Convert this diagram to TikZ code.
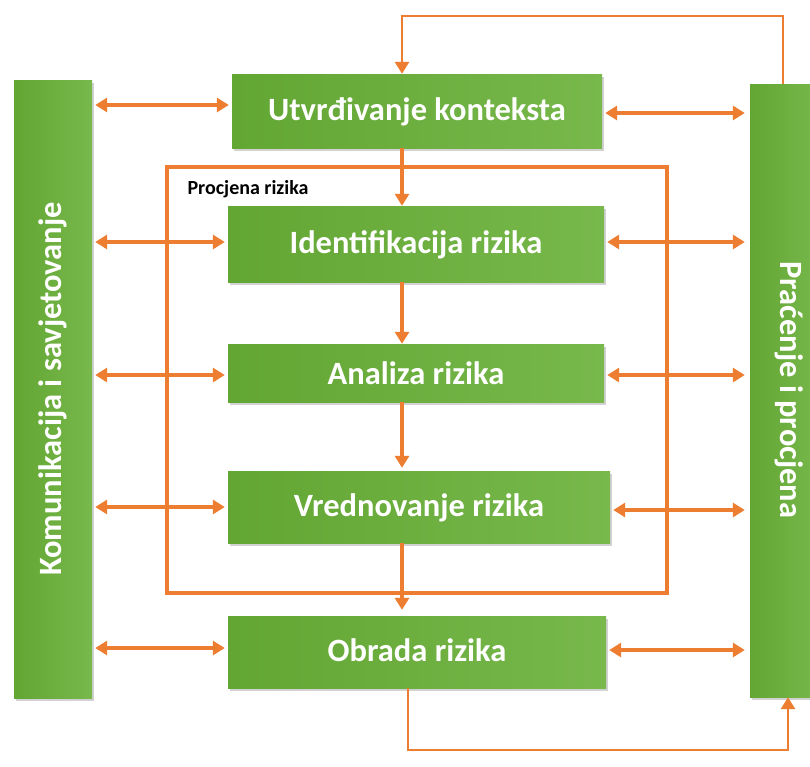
\documentclass[tikz,border=0pt]{standalone}
\usepackage{fontspec}
\setmainfont{Carlito}
\usetikzlibrary{arrows.meta,shadows}
\definecolor{org}{HTML}{ED7D31}
\definecolor{gL}{HTML}{62A633}
\definecolor{gR}{HTML}{78B84C}
\begin{document}
\begin{tikzpicture}[x=1pt,y=-1pt,
  gbox/.style={draw=none,left color=gL,right color=gR,text=white,
    font=\fontsize{32.5}{35}\selectfont\bfseries,inner sep=0pt,
    drop shadow={shadow xshift=2pt,shadow yshift=-3pt,opacity=0.35,fill=gray}},
  conn/.style={draw=org,line width=3.2pt},
  tip/.style={-{Triangle[length=12pt,width=14pt]}},
  dtip/.style={{Triangle[length=12pt,width=14pt]}-{Triangle[length=12pt,width=14pt]}}]
\useasboundingbox (0,0) rectangle (810,766);
\fill[white] (0,0) rectangle (810,766);
% bars
\node[gbox,minimum width=78pt,minimum height=618pt] (lbar) at (53,389) {};
\node[rotate=90,text=white,font=\fontsize{32.5}{35}\selectfont\bfseries] (ltext) at (lbar.center) {Komunikacija i savjetovanje};
\node[gbox,minimum width=70pt,minimum height=613pt] (rbar) at (785,390.5) {};
\node[rotate=-90,text=white,font=\fontsize{32.5}{35}\selectfont\bfseries] (rtext) at (789,390) {Praćenje i procjena};
% frame
\node[draw=org,line width=3.4pt,minimum width=500pt,minimum height=426pt,inner sep=0pt] (frame) at (417,380) {};
\node[anchor=west,font=\fontsize{20}{22}\selectfont\bfseries] (flabel) at (184,189) {Procjena rizika};
% boxes
\node[gbox,minimum width=370pt,minimum height=74pt,text depth=4pt] (ctx) at (417,111) {Utvrđivanje konteksta};
\node[gbox,minimum width=376pt,minimum height=76pt,text depth=4pt] (ident) at (416,244) {Identifikacija rizika};
\node[gbox,minimum width=376pt,minimum height=58pt] (anal) at (416,373) {Analiza rizika};
\node[gbox,minimum width=382pt,minimum height=72pt,text depth=4pt] (vred) at (419,507) {Vrednovanje rizika};
\node[gbox,minimum width=378pt,minimum height=72pt,text depth=4pt] (obr) at (417,652) {Obrada rizika};
% vertical arrows
\coordinate (vx) at (402,0);
\draw[conn,tip] (ctx.south -| vx) -- (ident.north -| vx);
\draw[conn,tip] (ident.south -| vx) -- (anal.north -| vx);
\draw[conn,tip] (anal.south -| vx) -- ([yshift=3pt]vred.north -| vx);
\draw[conn,tip] (vred.south -| vx) -- ([yshift=6pt]obr.north -| vx);
% horizontal double arrows
\foreach \b/\yl/\yr in {ctx/105/113, ident/242/242, anal/375/375, vred/507/510, obr/648/650}{
  \draw[conn,dtip] ([xshift=3pt]lbar.east |- 0,\yl) -- ([xshift=-3pt]\b.west |- 0,\yl);
  \draw[conn,dtip] ([xshift=3pt]\b.east |- 0,\yr) -- ([xshift=-5pt]rbar.west |- 0,\yr);
}
% top loop
\coordinate (tr) at (783,16);
\coordinate (tl) at (402,16);
\draw[conn,line width=2.8pt,tip] (rbar.north -| tr) -- (tr) -- (tl) -- (ctx.north -| tl);
% bottom loop
\coordinate (bl) at (408,750);
\coordinate (br) at (788,750);
\draw[conn,line width=2.8pt,tip] (obr.south -| bl) -- (bl) -- (br) -- (rbar.south -| br);
\end{tikzpicture}
\end{document}
